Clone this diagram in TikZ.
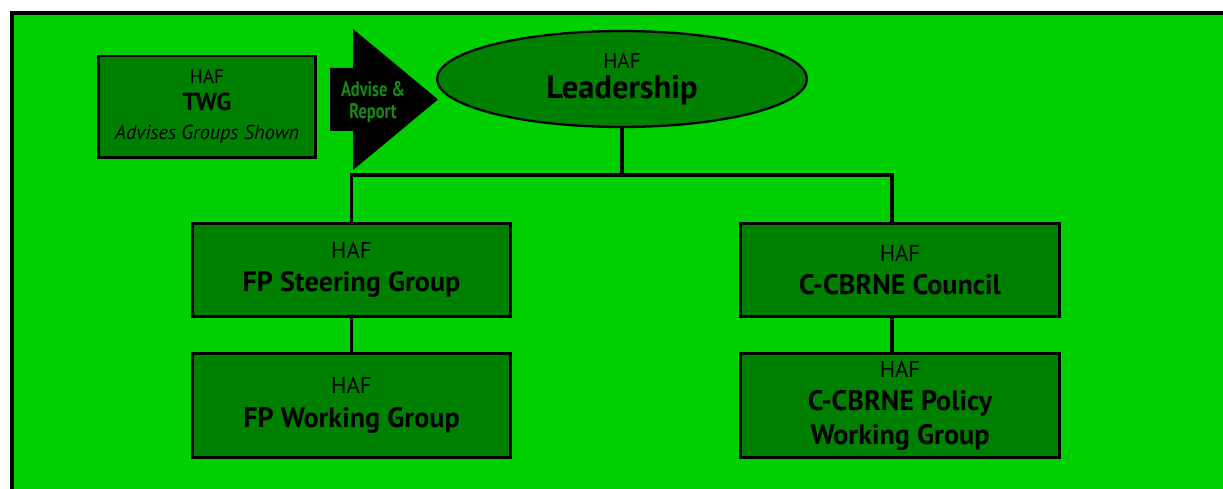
\documentclass[tikz,border=0pt]{standalone}
\usepackage{fontspec}
\setmainfont{PT Sans}
\newfontfamily\narrowfont[FakeStretch=0.78]{PT Sans}
\usetikzlibrary{shapes.geometric}
\definecolor{bggreen}{RGB}{0,208,0}
\definecolor{boxgreen}{RGB}{0,128,0}
\definecolor{txtgreen}{RGB}{20,140,20}
\begin{document}
\begin{tikzpicture}[x=0.02cm,y=-0.02cm,
main node/.style={draw,line width=1.7pt,fill=boxgreen,align=center,inner sep=0pt,minimum width=6.38cm,font=\fontsize{16}{19}\selectfont},
link/.style={line width=2pt}]
\clip (0,0) rectangle (1223,489);
\draw[line width=2.3pt,fill=bggreen] (12,13) rectangle (1260,520);
\node[main node,minimum width=4.36cm,minimum height=2.04cm,font=\fontsize{11.5}{15}\selectfont] (twg) at (207,107)
 {{\fontsize{11}{15}\selectfont HAF}\\{\fontsize{14}{15}\selectfont\bfseries TWG}\\[2pt]\itshape Advises Groups Shown};
\fill (330,68) -- (353,68) -- (353,29) -- (438,99.5) -- (353,170) -- (353,131) -- (330,131) -- cycle;
\node[align=center,text=txtgreen,font=\narrowfont\bfseries\fontsize{12}{12.5}\selectfont] (adv) at (373,102) {Advise \&\\Report};
\node[ellipse,draw,line width=1.3pt,fill=boxgreen,inner sep=0pt,minimum width=7.4cm,minimum height=1.92cm,align=center,
 font=\fontsize{18.5}{17}\selectfont] (lead) at (622,79) {{\fontsize{12}{17}\selectfont HAF}\\\bfseries Leadership};
\node[main node,minimum height=1.88cm] (steer) at (351.5,270) {{\fontsize{13}{18}\selectfont HAF}\\\bfseries FP Steering Group};
\node[main node,minimum height=2.1cm] (fpwg) at (351.5,405.5) {{\fontsize{13}{18}\selectfont HAF}\\\bfseries FP Working Group};
\node[main node,minimum height=1.88cm] (council) at (900,270) {{\fontsize{13}{18}\selectfont HAF}\\\bfseries C-CBRNE Council};
\node[main node,minimum height=2.1cm] (policy) at (900,405.5) {{\fontsize{13}{18}\selectfont HAF}\\\bfseries C-CBRNE Policy\\\bfseries Working Group};
\coordinate (bus) at (622,175);
\coordinate (rbus) at (892,175);
\draw[link] (lead) -- (bus);
\draw[link] (steer.north) |- (bus) -- (rbus) -- (rbus |- council.north);
\draw[link] (steer) -- (fpwg);
\draw[link] (council.south -| rbus) -- (policy.north -| rbus);
\end{tikzpicture}
\end{document}
